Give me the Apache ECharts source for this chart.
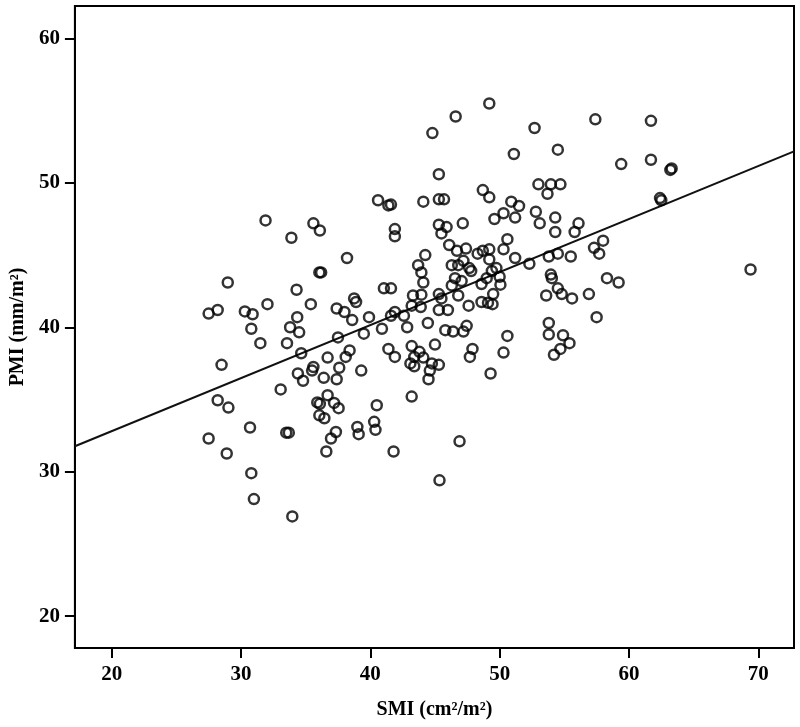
<!DOCTYPE html>
<html>
<head>
<meta charset="utf-8">
<script src="https://cdn.jsdelivr.net/npm/echarts@6/dist/echarts.min.js"></script>
<style>
  html, body { margin: 0; padding: 0; background: #fff; }
  #chart { width: 800px; height: 727px; }
</style>
</head>
<body>
<div id="chart"></div>
<script>
// SMI (x) vs PMI (y)
const smi = [
  31.9, 33.9, 35.6, 36.1, 36.06, 36.2, 28.98, 34.3, 32.05, 35.4, 28.2, 27.5, 30.3, 30.9, 37.4,
  30.8, 31.5, 34.35, 33.8, 34.5, 33.56, 34.66, 28.5, 33.07, 28.2, 29.03, 30.7, 27.5, 33.5, 33.7,
  28.9, 30.8, 31.0, 33.97, 36.7, 35.6, 35.5, 34.4, 34.8, 36.4, 37.4, 37.5, 37.6, 36.7, 35.9,
  36.1, 37.2, 37.55, 36.06, 36.45, 37.34, 36.96, 36.6,
  46.6, 44.8, 45.3, 48.7, 40.6, 41.4, 41.6, 44.1, 45.3, 45.7, 41.9, 41.9, 45.3, 45.9, 45.5,
  47.15, 38.2, 44.25, 43.7, 43.95, 44.1, 46.1, 46.7, 47.4, 48.3, 48.7, 46.3, 46.8, 47.2, 47.65,
  47.8, 46.55, 47.06, 46.3, 41.05, 41.6, 38.75, 38.9, 43.3, 43.95, 45.3, 45.5, 46.8, 47.6, 48.6,
  49.1, 49.45, 41.9, 43.2, 43.9, 45.3, 46.0,
  38.0, 38.6, 39.9, 39.5, 40.9, 41.6, 42.6, 42.85, 44.45, 45.8, 46.4, 47.2, 47.45, 41.4, 41.9,
  43.2, 43.8, 43.4, 44.1, 43.1, 43.4, 45.0, 44.76, 45.3, 44.6, 44.5, 47.9, 47.7, 38.4, 38.1,
  39.3, 40.5, 43.2, 39.0, 39.1, 40.3, 40.4, 41.8, 46.9, 45.35,
  49.2, 52.7, 57.4, 51.1, 54.5, 59.4, 53.0, 53.96, 54.7, 53.7, 49.2, 50.9, 51.5, 50.3, 51.2,
  49.6, 52.8, 53.1, 54.3, 54.3, 56.1, 55.8, 50.6, 50.3, 49.2, 49.2, 51.2, 52.3, 53.8, 54.5,
  55.5, 57.3, 58.0, 57.7, 49.75, 50.0, 49.0, 50.06, 49.5, 53.96, 54.04, 58.3, 59.2, 54.5, 54.8,
  53.6, 55.6, 56.9, 48.6, 49.4,
  57.5, 50.6, 50.3, 49.3, 53.8, 53.8, 54.9, 55.4, 54.7, 54.2,
  61.7, 61.7, 63.2, 63.3, 62.4, 62.5, 69.4
];
const pmi = [
  47.4, 46.2, 47.2, 46.7, 43.8, 43.8, 43.1, 42.6, 41.6, 41.6, 41.2, 40.95, 41.1, 40.9, 41.3,
  39.9, 38.9, 40.7, 40.0, 39.65, 38.9, 38.2, 37.4, 35.7, 34.95, 34.44, 33.06, 32.3, 32.7, 32.7,
  31.26, 29.9, 28.1, 26.9, 37.9, 37.25, 37.0, 36.8, 36.3, 36.5, 36.4, 39.3, 37.2, 35.3, 34.8,
  34.7, 34.76, 34.4, 33.9, 33.7, 32.75, 32.3, 31.4,
  54.6, 53.45, 50.6, 49.5, 48.8, 48.44, 48.5, 48.7, 48.86, 48.86, 46.8, 46.3, 47.1, 46.94, 46.5,
  47.2, 44.8, 45.0, 44.3, 43.8, 43.1, 45.7, 45.3, 45.45, 45.1, 45.3, 44.3, 44.3, 44.6, 44.1,
  43.9, 43.4, 43.2, 42.9, 42.7, 42.7, 42.0, 41.75, 42.2, 42.26, 42.3, 42.0, 42.2, 41.5, 41.75,
  41.7, 41.6, 41.06, 41.5, 41.4, 41.2, 41.2,
  41.06, 40.5, 40.7, 39.56, 39.9, 40.8, 40.8, 40.0, 40.3, 39.8, 39.7, 39.7, 40.1, 38.5, 37.95,
  38.7, 38.3, 37.95, 37.9, 37.5, 37.3, 38.8, 37.5, 37.4, 37.0, 36.4, 38.5, 37.95, 38.4, 37.95,
  37.0, 34.6, 35.2, 33.1, 32.6, 33.45, 32.9, 31.4, 32.1, 29.4,
  55.5, 53.8, 54.4, 52.0, 52.3, 51.3, 49.9, 49.9, 49.9, 49.25, 49.0, 48.7, 48.4, 47.9, 47.6,
  47.5, 48.0, 47.2, 47.6, 46.6, 47.2, 46.6, 46.1, 45.4, 45.4, 44.7, 44.8, 44.4, 44.9, 45.1,
  44.9, 45.5, 46.0, 45.1, 44.1, 43.5, 43.4, 42.95, 42.3, 43.65, 43.4, 43.4, 43.1, 42.7, 42.3,
  42.2, 42.0, 42.3, 43.0, 43.9,
  40.7, 39.4, 38.25, 36.8, 40.3, 39.5, 39.45, 38.9, 38.5, 38.1,
  54.3, 51.6, 50.9, 51.0, 48.95, 48.8, 44.0
];
// fit line end points, read at the plot edges
const fitX = [17.16, 72.76];
const fitY = [31.76, 52.18];
const xTicks = [20, 30, 40, 50, 60, 70];
const yTicks = [20, 30, 40, 50, 60];

const points = smi.map((v, i) => [v, pmi[i]]);
const fitLine = fitX.map((v, i) => [v, fitY[i]]);

const font = '"Liberation Serif", "DejaVu Serif", serif';
const chart = echarts.init(document.getElementById('chart'));
chart.setOption({
  backgroundColor: '#fff',
  animation: false,
  grid: {
    left: 70, right: 6, top: 6, bottom: 79,
    show: true, borderColor: '#000', borderWidth: 2
  },
  xAxis: {
    type: 'value',
    min: 17.16, max: 72.76,
    name: 'SMI (cm²/m²)',
    nameLocation: 'middle',
    nameGap: 52,
    nameTextStyle: { fontFamily: font, fontWeight: 'bold', fontSize: 20, color: '#000' },
    axisLine: { show: true, lineStyle: { color: '#000', width: 2 } },
    axisTick: { show: true, customValues: xTicks, length: 10, lineStyle: { color: '#000', width: 2 } },
    axisLabel: { customValues: xTicks, margin: 16, fontFamily: font, fontWeight: 'bold', fontSize: 21, color: '#000' },
    splitLine: { show: false }
  },
  yAxis: {
    type: 'value',
    min: 17.79, max: 62.25,
    name: 'PMI (mm/m²)',
    nameLocation: 'middle',
    nameGap: 46,
    nameRotate: 90,
    nameTextStyle: { fontFamily: font, fontWeight: 'bold', fontSize: 20, color: '#000' },
    axisLine: { show: true, lineStyle: { color: '#000', width: 2 } },
    axisTick: { show: true, customValues: yTicks, length: 10, lineStyle: { color: '#000', width: 2 } },
    axisLabel: { customValues: yTicks, margin: 15, fontFamily: font, fontWeight: 'bold', fontSize: 21, color: '#000' },
    splitLine: { show: false }
  },
  series: [
    {
      type: 'scatter',
      data: points,
      symbol: 'circle',
      symbolSize: 10,
      itemStyle: { color: 'rgba(255,255,255,0)', borderColor: '#000', borderWidth: 2.5 },
      z: 3
    },
    {
      type: 'line',
      data: fitLine,
      symbol: 'none',
      lineStyle: { color: '#111', width: 2 },
      z: 2
    }
  ]
});
</script>
</body>
</html>
